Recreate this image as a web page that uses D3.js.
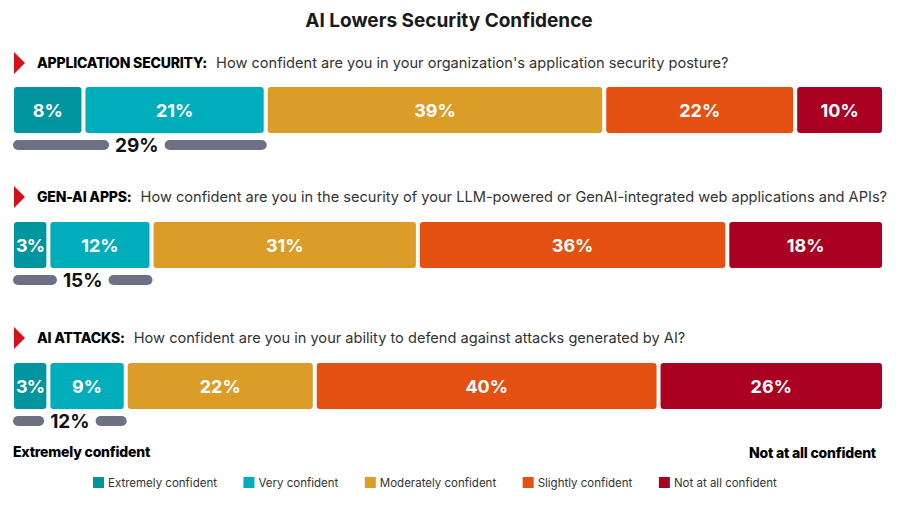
<!DOCTYPE html>
<html><head><meta charset="utf-8">
<script src="https://cdn.jsdelivr.net/npm/d3@7"></script>
<style>
html,body{margin:0;padding:0;background:#fff;}
svg{display:block;font-family:Inter, "Noto Sans", sans-serif;}
</style></head>
<body>
<svg id="chart" width="898" height="517"></svg>
<script>
const title = "AI Lowers Security Confidence";
const categories = ["Extremely confident","Very confident","Moderately confident","Slightly confident","Not at all confident"];
const colors = ["#00959F","#00AEBB","#DC9C28","#E35012","#AA0022"];
const rowKeys = ["APPLICATION SECURITY:","GEN-AI APPS:","AI ATTACKS:"];
const rowQuestions = [
  "How confident are you in your organization's application security posture?",
  "How confident are you in the security of your LLM-powered or GenAI-integrated web applications and APIs?",
  "How confident are you in your ability to defend against attacks generated by AI?"
];
const appSecurity = [8,21,39,22,10];
const genAiApps = [3,12,31,36,18];
const aiAttacks = [3,9,22,40,26];
const rowValues = [appSecurity, genAiApps, aiAttacks];
const topTwo = [29,15,12];
const leftEndLabel = "Extremely confident";
const rightEndLabel = "Not at all confident";

const svg = d3.select("#chart");
const W = 898;
const x0 = 14, x1 = 882, gap = 4, minUnits = 4;
const headerY = [63, 197, 338];
const barTop = [87, 222, 363];
const barH = 46;

svg.append("text").attr("x", W/2).attr("y", 27).attr("text-anchor","middle")
  .attr("font-size", 19).attr("font-weight", 700).attr("fill","#1a1a1a").text(title);

rowValues.forEach((vals, r) => {
  const g = svg.append("g");
  const hy = headerY[r];
  g.append("path").attr("d", d3.line()([[14, hy-11],[25, hy],[14, hy+11]]) + "Z").attr("fill","#D3121B");
  const key = g.append("text").attr("x", 37).attr("y", hy+5).attr("font-size", 14).attr("font-weight", 800)
    .attr("fill","#000").attr("letter-spacing", -0.2).text(rowKeys[r]);
  const kw = key.node().getComputedTextLength();
  g.append("text").attr("x", 37 + kw + 9).attr("y", hy+5).attr("font-size", 14.6).attr("fill","#333").text(rowQuestions[r]);

  const units = vals.map(v => Math.max(v, minUnits));
  const total = d3.sum(units);
  const xs = d3.scaleLinear().domain([0, total]).range([x0, x1]);
  let cum = 0;
  const segs = units.map((u, i) => { const s = {i, v: vals[i], a: cum, b: cum + u}; cum += u; return s; });
  g.selectAll("rect.seg").data(segs).join("rect").attr("class","seg")
    .attr("x", d => xs(d.a) + (d.i === 0 ? 0 : gap/2))
    .attr("y", barTop[r])
    .attr("width", d => xs(d.b) - xs(d.a) - (d.i === 0 || d.i === segs.length-1 ? gap/2 : gap))
    .attr("height", barH).attr("rx", 3).attr("fill", d => colors[d.i]);
  g.selectAll("text.seg").data(segs).join("text").attr("class","seg")
    .attr("x", d => (xs(d.a) + (d.i === 0 ? 0 : gap/2) + xs(d.b) - (d.i === segs.length-1 ? 0 : gap/2)) / 2)
    .attr("y", barTop[r] + barH/2 + 6.5).attr("text-anchor","middle")
    .attr("font-size", 18).attr("font-weight", 700).attr("fill","#fff")
    .attr("letter-spacing", d => d.v < 5 ? -0.8 : 0)
    .text(d => d.v + "%");

  const sx0 = x0 - 1, sx1 = xs(segs[1].b) + 1;
  const sy = barTop[r] + barH + 7, sh = 10;
  const cx = (sx0 + sx1) / 2 - (r === 0 ? 3 : 0);
  const lbl = g.append("text").attr("x", cx).attr("y", sy + sh/2 + 7).attr("text-anchor","middle")
    .attr("font-size", 19).attr("font-weight", 700).attr("fill","#111").text(topTwo[r] + "%");
  const lw = lbl.node().getComputedTextLength();
  const pad = 6;
  g.insert("rect", "text").attr("x", sx0).attr("y", sy).attr("width", cx - lw/2 - pad - sx0).attr("height", sh).attr("rx", 5).attr("fill","#6D7183");
  g.insert("rect", "text").attr("x", cx + lw/2 + pad).attr("y", sy).attr("width", sx1 - (cx + lw/2 + pad)).attr("height", sh).attr("rx", 5).attr("fill","#6D7183");
});

svg.append("text").attr("x", 13).attr("y", 457).attr("font-size", 14).attr("font-weight", 800).attr("fill","#000").attr("letter-spacing",-0.2).text(leftEndLabel);
svg.append("text").attr("x", 876).attr("y", 458).attr("text-anchor","end").attr("font-size", 14).attr("font-weight", 800).attr("fill","#000").attr("letter-spacing",-0.2).text(rightEndLabel);

let lx = 93;
const ly = 483;
categories.forEach((c, i) => {
  svg.append("rect").attr("x", lx).attr("y", ly-6).attr("width", 11).attr("height", 11).attr("fill", colors[i]);
  const t = svg.append("text").attr("x", lx + 15).attr("y", ly+4).attr("font-size", 11.5).attr("fill","#333").text(c);
  lx += 15 + t.node().getComputedTextLength() + 26.5;
});
</script>
</body></html>
